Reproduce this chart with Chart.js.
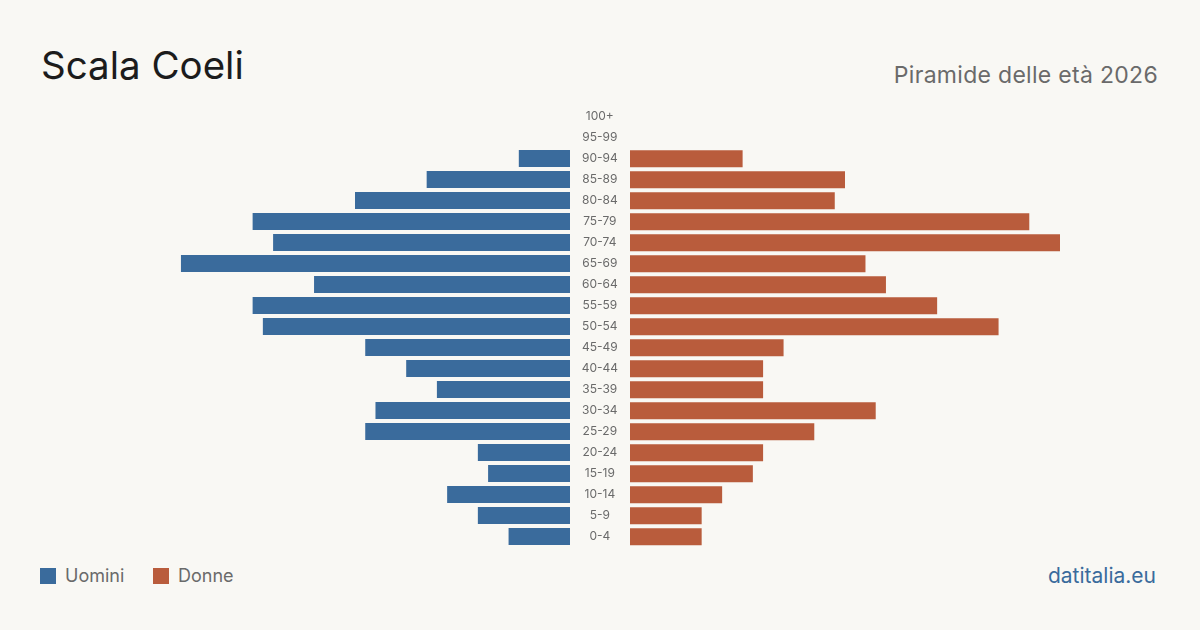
<!DOCTYPE html>
<html>
<head>
<meta charset="utf-8">
<script src="https://cdn.jsdelivr.net/npm/chart.js@4/dist/chart.umd.min.js"></script>
<style>
  html, body { margin: 0; padding: 0; }
  body { width: 1200px; height: 630px; background: #f9f8f4; position: relative; overflow: hidden; font-family: Inter, "Noto Sans", sans-serif; }
  #title { position: absolute; left: 41px; top: 46px; font-size: 38.5px; color: #1c1c1c; line-height: 1; }
  #subtitle { position: absolute; right: 42px; top: 64px; font-size: 23px; color: #6a6a6a; line-height: 1; letter-spacing: 0.3px; }
  #left { position: absolute; left: 140px; top: 106px; width: 430px; height: 441px; }
  /* the y axis adds half a label height plus tick padding (7.2 + 4px) above and below */
  #right { position: absolute; left: 570px; top: 94.8px; width: 490px; height: 463.4px; }
  .legend { position: absolute; top: 565px; font-size: 18px; color: #6a6a6a; line-height: 22px; display: flex; align-items: center; }
  .legend span.box { display: inline-block; width: 16px; height: 16px; margin-right: 9px; }
  #source { position: absolute; right: 44px; top: 565px; font-size: 21px; color: #3a6b9c; line-height: 22px; }
</style>
</head>
<body>
<div id="title">Scala Coeli</div>
<div id="subtitle">Piramide delle età 2026</div>
<div id="left"><canvas id="menChart"></canvas></div>
<div id="right"><canvas id="womenChart"></canvas></div>
<div class="legend" style="left:40px"><span class="box" style="background:#3a6b9c"></span>Uomini</div>
<div class="legend" style="left:153px"><span class="box" style="background:#b95c3c"></span>Donne</div>
<div id="source">datitalia.eu</div>
<script>
// age classes, top to bottom
const ageGroups = ['100+', '95-99', '90-94', '85-89', '80-84', '75-79', '70-74', '65-69', '60-64', '55-59', '50-54',
    '45-49', '40-44', '35-39', '30-34', '25-29', '20-24', '15-19', '10-14', '5-9', '0-4'];
const men = [0, 0, 5, 14, 21, 31, 29, 38, 25, 31, 30, 20, 16, 13, 19, 20, 9, 8, 12, 9, 6];
const women = [0, 0, 11, 21, 20, 39, 42, 23, 25, 30, 36, 15, 13, 13, 24, 18, 13, 12, 9, 7, 7];

const maxValue = Math.max(...men, ...women);

function makeChart(id, values, color, reversed, showLabels) {
    const ctx = document.getElementById(id).getContext('2d');
    const yAxis = {
        display: showLabels,
        grid: { display: false },
        border: { display: false },
        ticks: {
            color: '#6a6a6a',
            font: { family: 'Inter', size: 12, lineHeight: 1.2 },
            crossAlign: 'center',
            padding: 4
        }
    };
    if (showLabels) {
        yAxis.afterFit = function (axis) { axis.width = 60; };
    }
    return new Chart(ctx, {
        type: 'bar',
        data: {
            labels: ageGroups,
            datasets: [{
                data: values,
                backgroundColor: color,
                borderWidth: 0,
                barPercentage: 0.81,
                categoryPercentage: 1
            }]
        },
        options: {
            indexAxis: 'y',
            responsive: true,
            maintainAspectRatio: false,
            animation: false,
            layout: { padding: 0 },
            plugins: { legend: { display: false }, tooltip: { enabled: false } },
            scales: {
                x: { display: false, min: 0, max: maxValue, reverse: reversed },
                y: yAxis
            }
        }
    });
}

makeChart('menChart', men, '#3a6b9c', true, false);
makeChart('womenChart', women, '#b95c3c', false, true);
</script>
</body>
</html>
